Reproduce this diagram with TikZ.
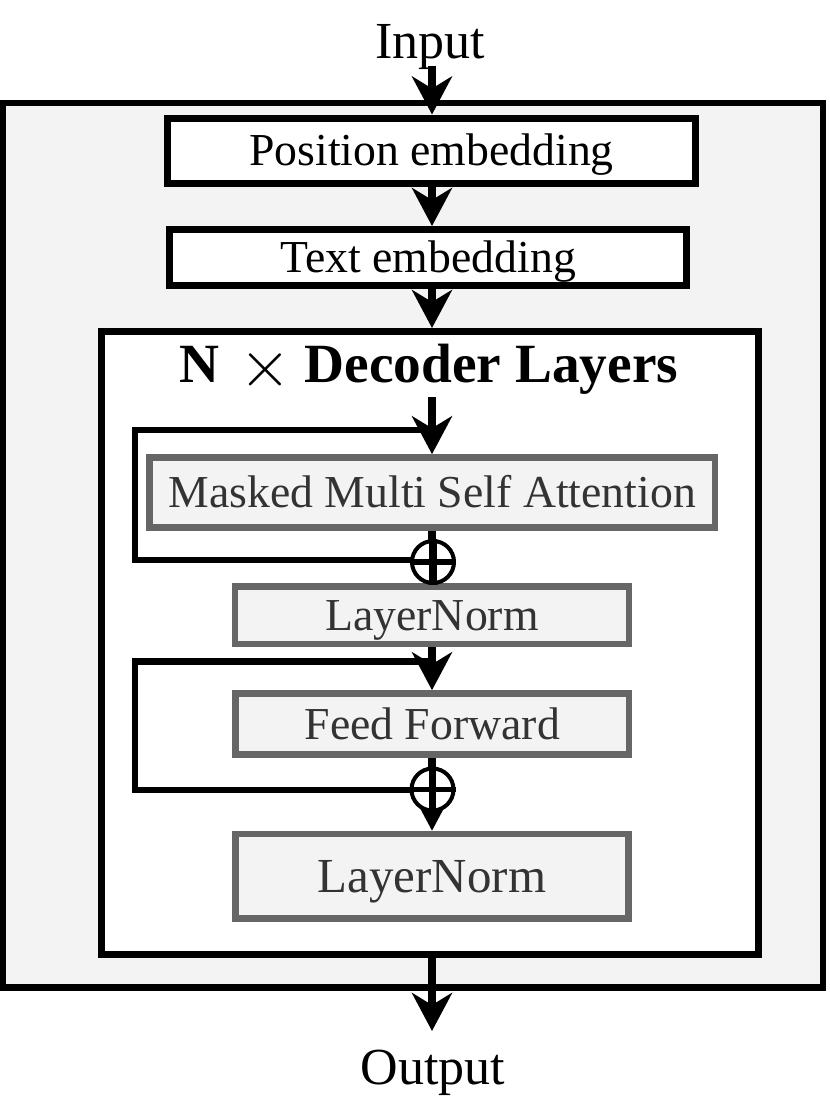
\RequirePackage{fix-cm}
\documentclass[tikz,border=0pt]{standalone}
\usepackage{fontspec}
\setmainfont{Liberation Serif}
\usetikzlibrary{arrows.meta}
\definecolor{lgray}{HTML}{F3F3F3}
\definecolor{bgray}{HTML}{666666}
\definecolor{tgray}{HTML}{333333}
\begin{document}
\begin{tikzpicture}[x=0.75pt,y=-0.75pt,
  wbox/.style={draw=black, line width=5.25pt, fill=white, inner sep=0pt, align=center, text height=22.6pt, text depth=0pt, font=\fontsize{34.3}{40}\selectfont},
  gbox/.style={draw=bgray, line width=4.9pt, fill=lgray, text=tgray, inner sep=0pt, align=center, text height=22.6pt, text depth=0pt, font=\fontsize{34.3}{40}\selectfont},
  arr/.style={line width=5.6pt, -{Stealth[length=28.5pt, width=30pt, inset=9pt]}},
  flow/.style={line width=5.6pt},
  skip/.style={line width=4.6pt},
  plus/.style={circle, draw=black, line width=3pt, fill=white, minimum size=31.5pt, inner sep=0pt},
  lbl/.style={font=\fontsize{39}{45}\selectfont, inner sep=0pt}
]
\useasboundingbox (0,0) rectangle (830,1104);
% outer box
\node[draw=black, line width=4.9pt, fill=lgray, minimum width=615pt, minimum height=663.4pt, inner sep=0pt] (outer) at (413,545.25) {};
% input / output labels
\node[lbl, anchor=base] (in) at (430,58) {Input};
\node[lbl, anchor=base] (out) at (433,1084) {Output};
% embedding boxes
\node[wbox, minimum width=396pt, minimum height=48.75pt] (pos) at (431.5,150.5) {Position embedding};
\node[wbox, minimum width=387.4pt, minimum height=42pt] (txt) at (428.25,257.5) {Text embedding};
% decoder box
\node[wbox, minimum width=492.4pt, minimum height=467.6pt] (dec) at (429.75,643.25) {};
\node[anchor=base, inner sep=0pt, font=\fontsize{41.5}{46}\selectfont\bfseries] (title) at (429,382) {N\hspace{0.35em}\raisebox{-3pt}{\fontsize{50}{50}\selectfont$\times$} Decoder Layers};
% inner boxes
\node[gbox, minimum width=424.1pt, minimum height=52.5pt] (mmsa) at (432.25,492.5) {Masked Multi Self Attention};
\node[gbox, minimum width=295.5pt, minimum height=43.1pt] (ln1) at (432,615.25) {LayerNorm};
\node[gbox, minimum width=295.1pt, minimum height=45.75pt] (ff) at (432.25,724) {Feed Forward};
\node[gbox, minimum width=294.75pt, minimum height=63.4pt, text height=24.2pt, font=\fontsize{36.7}{42}\selectfont] (ln2) at (432,876.25) {LayerNorm};
% reference coordinates
\coordinate (X) at (432,0);
\coordinate (a0) at (432,66);
\coordinate (a1) at (432,397);
\coordinate (s1a) at (432,430);
\coordinate (s1b) at (135,430);
\coordinate (s1c) at (135,560);
\coordinate (s2a) at (432,661.5);
\coordinate (s2b) at (135,661.5);
\coordinate (s2c) at (135,790);
\coordinate (o1) at (432,1031);
% main flow arrows
\draw[arr] (a0) -- (pos.north -| X);
\draw[arr] (pos.south -| X) -- (txt.north -| X);
\draw[arr] (txt.south -| X) -- (dec.north -| X);
\draw[arr] (a1) -- (mmsa.north -| X);
\draw[skip] (s1a) -- (s1b) -- (s1c) -- (432,560);
\draw[flow] (mmsa.south -| X) -- (ln1.north -| X);
\node[plus] (c1) at (433,562) {};
\draw[line width=4.4pt] (c1.west) -- (c1.east);
\draw[line width=5.6pt] (c1.north) -- (c1.south);
\draw[arr] (ln1.south -| X) -- (ff.north -| X);
\draw[skip] (s2a) -- (s2b) -- (s2c) -- (432,790);
\draw[arr] (ff.south -| X) -- (ln2.north -| X);
\node[plus] (c2) at (432.5,789.5) {};
\draw[line width=4.4pt] (c2.west) -- (c2.east);
\draw[line width=5.6pt] (c2.north) -- (c2.south);
\draw[arr] (dec.south -| X) -- (o1);
\end{tikzpicture}
\end{document}
